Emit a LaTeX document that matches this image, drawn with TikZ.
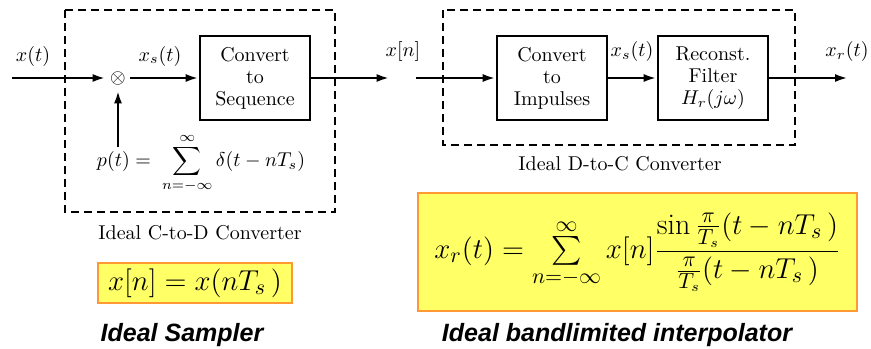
\documentclass[tikz,border=0pt]{standalone}
\usepackage{amsmath}
\usepackage{fontspec}
\newfontfamily\capfont{Liberation Sans}
\usetikzlibrary{calc,shapes,arrows.meta,positioning}

\definecolor{hilite}{RGB}{255,255,102}
\definecolor{hiliteedge}{RGB}{255,153,51}

\tikzset{
  blk/.style={draw,line width=1.3pt,minimum width=55pt,minimum height=42pt,
    align=center,inner sep=1pt,font=\fontsize{10}{11}\selectfont},
  sig/.style={line width=1.3pt,-{Latex[length=6.5pt,width=4pt]}},
  dashbox/.style={line width=1.3pt,dash pattern=on 4pt off 2.5pt},
  eqbox/.style={draw=hiliteedge,fill=hilite,line width=0.6pt,inner sep=0pt,
    font=\fontsize{15}{18}\selectfont},
  capt/.style={font=\capfont\bfseries\itshape\fontsize{12.5}{14}\selectfont}
}

\begin{document}
\begin{tikzpicture}[x=0.5pt,y=-0.5pt]
\useasboundingbox (0,0) rectangle (871,348);

\draw[dashbox] (65,10) rectangle (335,212);
\draw[dashbox] (443,10) rectangle (795,145);

\node[circle,minimum size=12pt,inner sep=0] (mul) at (118,78) {$\otimes$};
\node[blk] (seq) at (255,78) {Convert\\to\\Sequence};
\node[blk] (imp) at (552,78) {Convert\\to\\Impulses};
\node[blk] (rec) at (713,78) {Reconst.\\Filter\\$H_r(j\omega)$};
\node[inner sep=0,minimum width=13pt] (xn) at (403,78) {};
\coordinate (xin) at (12,78);
\coordinate (xout) at (848,78);
\coordinate (pin) at (118,147);

\draw[sig] (xin) -- (mul);
\draw[sig] (mul) -- (seq);
\draw[sig] (seq) -- (xn.west);
\draw[sig] (xn.east) -- (imp);
\draw[sig] (imp) -- (rec);
\draw[sig] (rec) -- (xout);
\draw[sig] (pin) -- (mul);

\node (lxt) at (33,56) {$x(t)$};
\node (lxs) at (160,56) {$x_s(t)$};
\node (lxn) at (403,51) {$x[n]$};
\node (lxs2) at (632,51) {$x_s(t)$};
\node (lxr) at (847,51) {$x_r(t)$};
\node (pt) at (201,163) {$p(t) =\;\displaystyle\sum_{n=-\infty}^{\infty}\delta(t-nT_s)$};

\node (ctod) at (200,233) {Ideal C-to-D Converter};
\node (dtoc) at (620,164) {Ideal D-to-C Converter};

\node[eqbox,minimum width=97pt,minimum height=20pt] (samp) at (195,283)
  {$x[n] = x(nT_s\,)$};
\node[eqbox,minimum width=219.5pt,minimum height=59pt] (interp) at (637.5,252)
  {$x_r(t) = \sum\limits_{n=-\infty}^{\infty} x[n]\dfrac{\sin\tfrac{\pi}{T_s}(t-nT_s\,)}{\tfrac{\pi}{T_s}(t-nT_s\,)}$};

\node[capt] (samplab) at (182,335) {Ideal Sampler};
\node[capt] (interplab) at (617,335) {Ideal bandlimited interpolator};

\end{tikzpicture}
\end{document}
